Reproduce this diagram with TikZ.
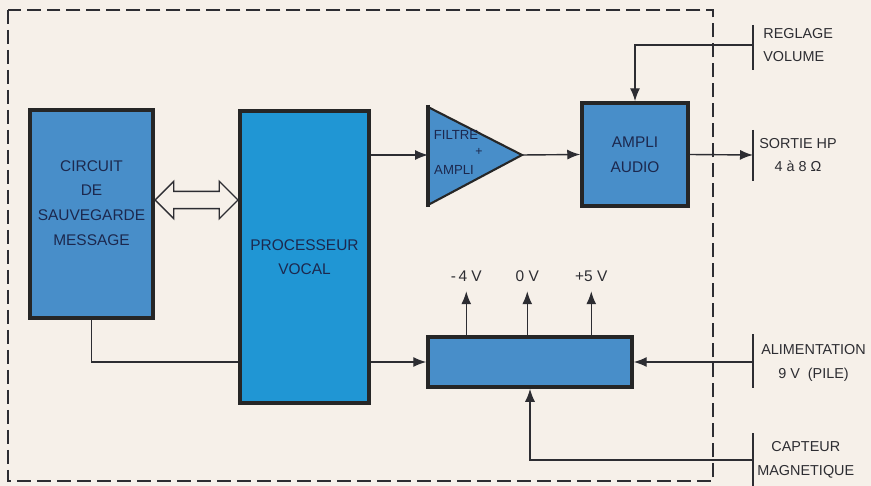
\documentclass[tikz,border=0pt]{standalone}
\usepackage{fontspec}
\setmainfont{Liberation Sans}
\usetikzlibrary{calc, positioning, arrows.meta, shapes.arrows}
\definecolor{paper}{RGB}{246,240,233}
\definecolor{blocblue}{RGB}{72,142,201}
\definecolor{procblue}{RGB}{32,150,212}
\definecolor{inkblue}{RGB}{28,40,78}
\definecolor{inkgrey}{RGB}{45,45,50}
\tikzset{
    bloc/.style={draw=black!85, line width=2pt, fill=blocblue, text=inkblue, align=center, font=\fontsize{8.8}{14}\selectfont},
    sigarrow/.style={-{Latex[length=2.6mm,width=2mm]}, line width=0.8pt, draw=inkgrey},
    sigline/.style={line width=0.8pt, draw=inkgrey},
    borne/.style={line width=0.8pt, draw=inkgrey},
    extlabel/.style={text=inkgrey, font=\fontsize{8.2}{13.5}\selectfont, anchor=west, inner sep=0pt},
    cadre/.style={dash pattern=on 0.28cm off 0.12cm, line width=0.9pt, draw=inkgrey}
}
\begin{document}
\begin{tikzpicture}[x=0.02cm,y=-0.02cm]
            \fill[paper] (0,0) rectangle (871,486);
            \useasboundingbox (0,0) rectangle (871,486);
            \draw[cadre] (8,10) rectangle (713,481);
            % blocs
            \node[bloc, minimum width=2.46cm, minimum height=4.16cm, text depth=0.45cm] (circuit) at (91.5,214) {CIRCUIT\\DE\\SAUVEGARDE\\MESSAGE};
            \node[bloc, fill=procblue, minimum width=2.58cm, minimum height=5.84cm] (processeur) at (304.5,257) {PROCESSEUR\\VOCAL};
            \node[bloc, minimum width=2.12cm, minimum height=2.06cm] (audio) at (635,154.5) {AMPLI\\AUDIO};
            \node[bloc, minimum width=4.08cm, minimum height=1.0cm] (alim) at (530,362) {};
            \node[double arrow, draw=inkgrey, fill=paper, line width=0.8pt, inner xsep=0pt, inner ysep=0.16cm,
                  minimum height=1.66cm, double arrow head extend=0.2cm] (bus) at (196.5,200) {};
            % filtre
            \coordinate (filtin) at (428,155);
            \coordinate (filtout) at (522,155);
            \filldraw[fill=blocblue, draw=black!85, line width=1.2pt] (428,107) -- (filtout) -- (428,205) -- cycle;
            \draw[line width=2.2pt, black!85] (428,105) -- (428,207);
            \node[text=inkblue, font=\fontsize{7.5}{10}\selectfont] (filtre) at (456,135) {FILTRE};
            \node[text=inkblue, font=\fontsize{7.5}{10}\selectfont] (ampli) at (454,170) {AMPLI};
            \node[text=inkblue, font=\scriptsize] (plus) at (479,152) {+};
            % bornes
            \coordinate (reglage) at (753,45);
            \coordinate (sortie) at (753,155);
            \coordinate (pile) at (753,362);
            \coordinate (capteur) at (753,460);
            \draw[borne] (753,25) -- (753,70);
            \draw[borne] (753,130) -- (753,181);
            \draw[borne] (753,334) -- (753,388);
            \draw[borne] (753,433) -- (753,486);
            \node[extlabel, align=left] (lreglage) at (763,45) {REGLAGE\\VOLUME};
            \node[extlabel, align=center] (lsortie) at (759,155) {SORTIE HP\\4 à 8 Ω};
            \node[extlabel, align=center] (lpile) at (761,363) {ALIMENTATION\\9 V\ \ (PILE)};
            \node[extlabel, align=center] (lcapteur) at (757,460) {CAPTEUR\\MAGNETIQUE};
            % liaisons
            \draw[sigarrow] (processeur.east |- filtin) -- (filtin);
            \draw[sigarrow] (filtout) -- (audio.west);
            \draw[sigarrow] (audio.east) -- (sortie);
            \draw[sigarrow] (reglage) -| (audio.north);
            \draw[sigline] (circuit.south) |- (processeur.west |- alim.west);
            \draw[sigarrow] (processeur.east |- alim.west) -- (alim.west);
            \draw[sigarrow] (pile) -- (alim.east);
            \draw[sigarrow] (capteur) -| (alim.south);
            \foreach \dx/\tension in {40/{-\,4 V}, 101/{0 V}, 165/{+5 V}}
                \draw[sigarrow] ($(alim.north west)+(\dx,0)$) -- ++(0,-44)
                    node[above=2pt, text=inkgrey, font=\fontsize{8.8}{12}\selectfont] {\tension};
        \end{tikzpicture}
\end{document}
